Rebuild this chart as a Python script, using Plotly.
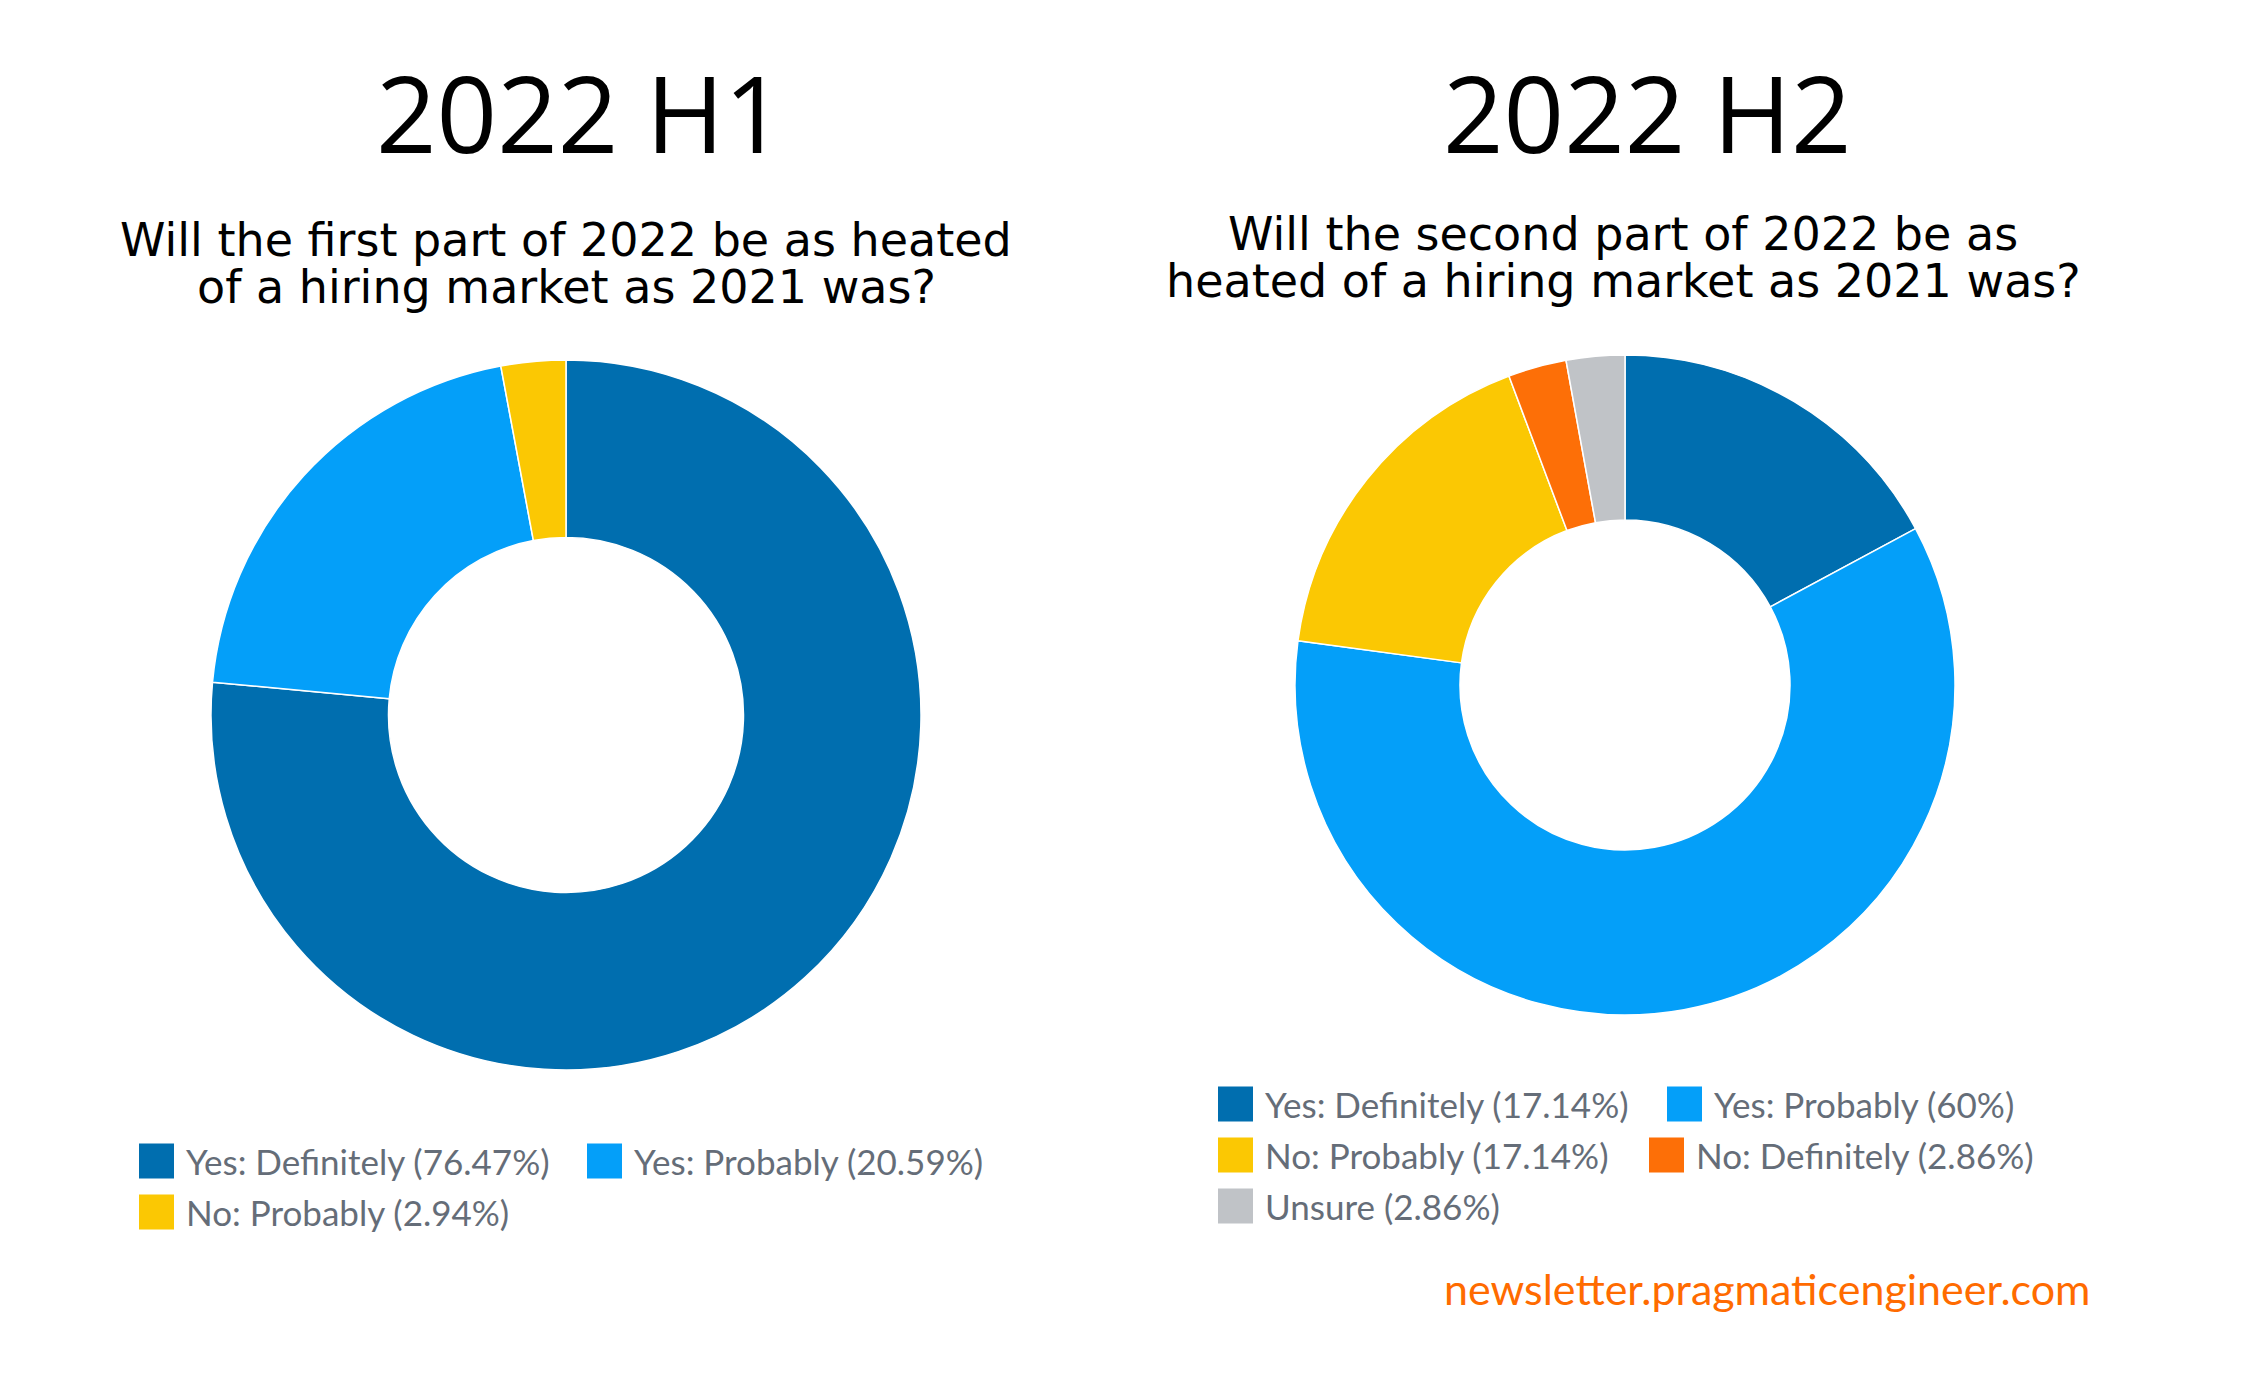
import plotly.graph_objects as go

# ---- data ----
h1_labels = ["Yes: Definitely", "Yes: Probably", "No: Probably"]
h1_values = [76.47, 20.59, 2.94]
h2_labels = ["Yes: Definitely", "Yes: Probably", "No: Probably", "No: Definitely", "Unsure"]
h2_values = [17.14, 60, 17.14, 2.86, 2.86]

titles = ["2022 H1", "2022 H2"]
subtitles = [
    ["Will the first part of 2022 be as heated", "of a hiring market as 2021 was?"],
    ["Will the second part of 2022 be as", "heated of a hiring market as 2021 was?"],
]
watermark = "newsletter.pragmaticengineer.com"

# ---- styles ----
colors = {
    "Yes: Definitely": "#006EAF",
    "Yes: Probably": "#049FF9",
    "No: Probably": "#FBC803",
    "No: Definitely": "#FD6F07",
    "Unsure": "#C0C3C7",
}
W, H = 2244, 1386
TITLE_FONT = "Open Sans, Noto Sans, sans-serif"
SUB_FONT = "DejaVu Sans, sans-serif"
LEG_FONT = "Lato, sans-serif"
LEG_COLOR = "#656D78"


def fmt(v):
    return ("%.2f" % v).rstrip("0").rstrip(".")


def px_x(x):
    return x / W


def px_y(y):
    return 1 - y / H


fig = go.Figure()

# pies: (center x, center y, radius) in pixels
pie_geo = [(566, 715, 355), (1625, 685, 330)]
for (labels, values), (cx, cy, r) in zip([(h1_labels, h1_values), (h2_labels, h2_values)], pie_geo):
    fig.add_trace(go.Pie(
        labels=labels, values=values, sort=False, direction="clockwise", rotation=0,
        hole=0.5, textinfo="none", hoverinfo="label+percent",
        marker=dict(colors=[colors[l] for l in labels], line=dict(color="white", width=1.5)),
        domain=dict(x=[px_x(cx - r), px_x(cx + r)], y=[px_y(cy + r), px_y(cy - r)]),
        showlegend=False,
    ))

annotations = []
shapes = []

# big titles
for t, x in zip(titles, [580, 1647]):
    annotations.append(dict(text=t, x=px_x(x), y=px_y(112), xref="paper", yref="paper",
                            xanchor="center", yanchor="middle", showarrow=False,
                            font=dict(family=TITLE_FONT, size=106, color="#000000")))

# subtitles
sub_pos = [(566, [240, 287]), (1623, [234, 281])]
for lines, (x, ys) in zip(subtitles, sub_pos):
    for line, y in zip(lines, ys):
        annotations.append(dict(text=line, x=px_x(x), y=px_y(y), xref="paper", yref="paper",
                                xanchor="center", yanchor="middle", showarrow=False,
                                font=dict(family=SUB_FONT, size=46, color="#000000")))

# legends: positions of each item's square (left x, center y)
leg_pos = [
    [(139, 1161), (587, 1161), (139, 1212)],
    [(1218, 1104), (1667, 1104), (1218, 1155), (1649, 1155), (1218, 1206)],
]
sq = 35
for (labels, values), positions in zip([(h1_labels, h1_values), (h2_labels, h2_values)], leg_pos):
    for lab, val, (x, y) in zip(labels, values, positions):
        shapes.append(dict(type="rect", xref="paper", yref="paper",
                           x0=px_x(x), x1=px_x(x + sq), y0=px_y(y + sq / 2), y1=px_y(y - sq / 2),
                           fillcolor=colors[lab], line=dict(width=0)))
        annotations.append(dict(text=f"{lab} ({fmt(val)}%)", x=px_x(x + 45), y=px_y(y),
                                xref="paper", yref="paper", xanchor="left", yanchor="middle",
                                showarrow=False,
                                font=dict(family=LEG_FONT, size=35, color=LEG_COLOR)))

annotations.append(dict(text=watermark, x=px_x(2093), y=px_y(1288), xref="paper", yref="paper",
                        xanchor="right", yanchor="middle", showarrow=False,
                        font=dict(family=LEG_FONT, size=43, color="#FF6B00")))

fig.update_layout(
    width=W, height=H, margin=dict(l=0, r=0, t=0, b=0),
    paper_bgcolor="white", plot_bgcolor="white",
    annotations=annotations, shapes=shapes,
)

fig.write_html("out.html")
